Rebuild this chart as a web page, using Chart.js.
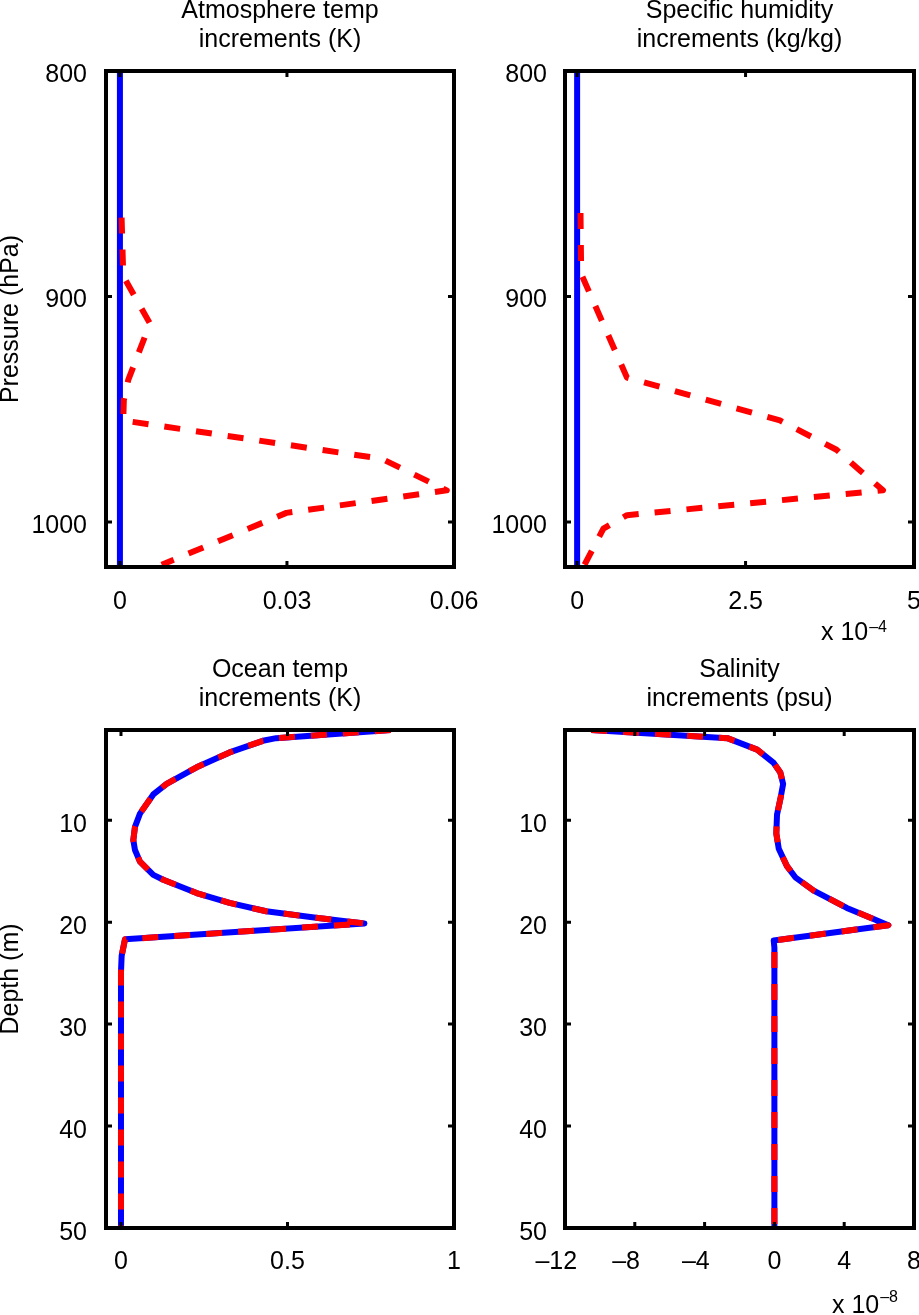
<!DOCTYPE html>
<html>
<head>
<meta charset="utf-8">
<script src="https://cdn.jsdelivr.net/npm/chart.js@4.4.1/dist/chart.umd.min.js"></script>
<style>
  html, body { margin: 0; padding: 0; background: #fff; overflow: hidden; }
  #page { position: relative; width: 919px; height: 1315px; }
  canvas { position: absolute; }
</style>
</head>
<body>
<div id="page">
  <canvas id="atmTemp" width="480" height="631" style="left:0px;top:-4px"></canvas>
  <canvas id="humidity" width="460" height="651" style="left:470px;top:-4px"></canvas>
  <canvas id="oceanTemp" width="480" height="633" style="left:0px;top:655px"></canvas>
  <canvas id="salinity" width="460" height="660" style="left:470px;top:655px"></canvas>
</div>
<script>
// atmosphere temp increments (K) vs pressure (hPa)
var atmBlueLevels = [800, 1020];
var atmBlueTemp = [0, 0];
var atmRedLevels = [865, 891, 912, 937, 946, 955, 972, 986, 996, 1019];
var atmRedTemp = [0.0003, 0.0006, 0.0054, 0.0015, 0.0007, 0.0006, 0.0470, 0.0587, 0.0299, 0.0075];

// specific humidity increments, in units of 1e-4 kg/kg
var humBlueLevels = [800, 1020];
var humBlueVals = [0, 0];
var humRedLevels = [863, 890, 936, 955, 968, 977, 986, 997, 1003, 1019];
var humRedVals = [0.05, 0.06, 0.74, 3.01, 3.85, 4.19, 4.54, 0.74, 0.39, 0.11];

// ocean temp increments (K) vs depth (m)
var oceanDepth = [1.15, 1.95, 2.21, 3.35, 4.81, 6.43, 7.47, 9.35, 10.65, 11.95, 12.92, 14.06, 15.36, 15.84, 17.14, 18.11, 18.93, 19.57, 20.13, 21.68, 23.3, 24.9, 50];
var oceanTempVals = [0.81, 0.466, 0.426, 0.326, 0.227, 0.137, 0.097, 0.057, 0.042, 0.037, 0.042, 0.057, 0.097, 0.127, 0.227, 0.326, 0.436, 0.586, 0.731, 0.012, 0.002, 0, 0];

// salinity increments, in units of 1e-8 psu
var salDepth = [1.15, 1.95, 3.07, 4.38, 5.32, 6.44, 7.94, 9.44, 11.3, 12.8, 14.5, 15.6, 16.9, 18.6, 19.7, 20.3, 21.8, 22.5, 50];
var salVals = [-10.5, -2.7, -0.99, -0.04, 0.34, 0.50, 0.34, 0.15, 0.11, 0.25, 0.72, 1.20, 2.25, 4.15, 5.68, 6.53, -0.04, 0, 0];

// tick values
var pressureTicks = [800, 900, 1000];
var depthTicks = [10, 20, 30, 40, 50];
var atmTempTicks = [0, 0.03, 0.06];
var humTicks = [0, 2.5, 5];
var oceanTempTicks = [0, 0.5, 1];
var salTicks = [-12, -8, -4, 0, 4, 8];

var FONT = '"Liberation Sans", Arial, Helvetica, sans-serif';
Chart.defaults.font.family = FONT;
Chart.defaults.color = '#000';

function pts(xs, ys) {
    return xs.map(function(v, i) { return {x: v, y: ys[i]}; });
}

// negative numbers get an en dash, and hang a little to the left like the original
function fmt(v) {
    if (v < 0) return '\u2013' + String(-v) + '\u2002\u2009';
    return String(v);
}

// box around the plot, inward ticks on all four sides, and the "x 10^n" note
var framePlugin = {
    id: 'frame',
    afterDatasetsDraw: function(chart) {
        var ctx = chart.ctx;
        var a = chart.chartArea;
        var xs = chart.scales.x, ys = chart.scales.y;
        ctx.save();
        ctx.strokeStyle = '#000';
        ctx.lineWidth = 4;
        ctx.strokeRect(a.left, a.top, a.right - a.left, a.bottom - a.top);
        ctx.lineWidth = 3;
        ctx.beginPath();
        xs.ticks.forEach(function(t) {
            var px = xs.getPixelForValue(t.value);
            ctx.moveTo(px, a.bottom); ctx.lineTo(px, a.bottom - 6);
            ctx.moveTo(px, a.top); ctx.lineTo(px, a.top + 6);
        });
        ys.ticks.forEach(function(t) {
            var py = ys.getPixelForValue(t.value);
            ctx.moveTo(a.left, py); ctx.lineTo(a.left + 6, py);
            ctx.moveTo(a.right, py); ctx.lineTo(a.right - 6, py);
        });
        ctx.stroke();

        var ex = chart.options.plugins.frame;
        if (ex && ex.exponent) {
            ctx.fillStyle = '#000';
            ctx.textBaseline = 'alphabetic';
            ctx.textAlign = 'left';
            ctx.font = '25px ' + FONT;
            var mainW = ctx.measureText('x 10').width;
            ctx.font = '16px ' + FONT;
            var supW = ctx.measureText(ex.exponent).width;
            var x0 = a.right - ex.right - supW - mainW - 1;
            ctx.font = '25px ' + FONT;
            ctx.fillText('x 10', x0, a.bottom + ex.base);
            ctx.font = '16px ' + FONT;
            ctx.fillText(ex.exponent, x0 + mainW + 1, a.bottom + ex.supBase);
        }
        ctx.restore();
    }
};

function makePanel(id, p) {
    var datasets = [];
    datasets.push({
        data: p.red,
        borderColor: '#ff0000',
        borderWidth: 6,
        borderDash: [16, 16],
        borderCapStyle: 'butt',
        borderJoinStyle: 'round',
        showLine: true,
        pointRadius: 0,
        tension: 0
    });
    datasets.push({
        data: p.blue,
        borderColor: '#0000ff',
        borderWidth: 6,
        borderJoinStyle: 'round',
        showLine: true,
        pointRadius: 0,
        tension: 0
    });

    return new Chart(document.getElementById(id).getContext('2d'), {
        type: 'scatter',
        data: { datasets: datasets },
        options: {
            responsive: false,
            animation: false,
            events: [],
            layout: { padding: { left: 0, right: p.padRight, top: 0, bottom: 0 } },
            plugins: {
                legend: { display: false },
                tooltip: { enabled: false },
                title: {
                    display: true,
                    text: p.title,
                    fullSize: false,
                    color: '#000',
                    font: { size: 25, weight: 'normal', lineHeight: '29.5px' },
                    padding: { top: 0, bottom: 16 }
                },
                frame: p.exp || {}
            },
            scales: {
                x: {
                    type: 'linear',
                    min: p.xMin,
                    max: p.xMax,
                    grid: { display: false, drawTicks: false },
                    border: { display: false },
                    ticks: {
                        padding: 0,
                        maxRotation: 0,
                        autoSkip: false,
                        font: { size: 25, lineHeight: p.xLabelGap * 2 + 'px' },
                        callback: function(v) { return fmt(v); }
                    },
                    afterBuildTicks: function(s) {
                        s.ticks = p.xTicks.map(function(v) { return {value: v}; });
                    },
                    afterFit: function(s) { s.height = p.xHeight; }
                },
                y: {
                    type: 'linear',
                    reverse: true,
                    min: p.yMin,
                    max: p.yMax,
                    grid: { display: false, drawTicks: false },
                    border: { display: false },
                    title: {
                        display: !!p.yTitle,
                        text: p.yTitle || '',
                        color: '#000',
                        font: { size: 25, lineHeight: '22px' },
                        padding: 0
                    },
                    ticks: {
                        padding: p.yPad,
                        labelOffset: p.yLabelOffset,
                        autoSkip: false,
                        font: { size: 25, lineHeight: 1.2 },
                        callback: function(v) { return fmt(v); }
                    },
                    afterBuildTicks: function(s) {
                        s.ticks = p.yTicks.map(function(v) { return {value: v}; });
                    },
                    afterFit: function(s) { s.width = p.yWidth; }
                }
            }
        },
        plugins: [framePlugin]
    });
}

makePanel('atmTemp', {
    title: ['Atmosphere temp', 'increments (K)'],
    yTitle: 'Pressure (hPa)',
    red: pts(atmRedTemp, atmRedLevels),
    blue: pts(atmBlueTemp, atmBlueLevels),
    xMin: -0.0025, xMax: 0.06, xTicks: atmTempTicks,
    yMin: 800, yMax: 1020, yTicks: pressureTicks,
    yWidth: 106, padRight: 26, xHeight: 60,
    xLabelGap: 35, yPad: 19, yLabelOffset: 4
});

makePanel('humidity', {
    title: ['Specific humidity', 'increments (kg/kg)'],
    red: pts(humRedVals, humRedLevels),
    blue: pts(humBlueVals, humBlueLevels),
    xMin: -0.18, xMax: 5, xTicks: humTicks,
    yMin: 800, yMax: 1020, yTicks: pressureTicks,
    yWidth: 95, padRight: 16, xHeight: 80,
    xLabelGap: 35, yPad: 18, yLabelOffset: 4,
    exp: { exponent: '\u20134', right: 27, base: 73, supBase: 65 }
});

makePanel('oceanTemp', {
    title: ['Ocean temp', 'increments (K)'],
    yTitle: 'Depth (m)',
    red: pts(oceanTempVals, oceanDepth),
    blue: pts(oceanTempVals, oceanDepth),
    xMin: -0.045, xMax: 1, xTicks: oceanTempTicks,
    yMin: 1.15, yMax: 50, yTicks: depthTicks,
    yWidth: 106, padRight: 26, xHeight: 60,
    xLabelGap: 34, yPad: 19, yLabelOffset: 5
});

makePanel('salinity', {
    title: ['Salinity', 'increments (psu)'],
    red: pts(salVals, salDepth),
    blue: pts(salVals, salDepth),
    xMin: -12, xMax: 8, xTicks: salTicks,
    yMin: 1.15, yMax: 50, yTicks: depthTicks,
    yWidth: 95, padRight: 16, xHeight: 87,
    xLabelGap: 34, yPad: 18, yLabelOffset: 5,
    exp: { exponent: '\u20138', right: 16, base: 85, supBase: 74 }
});
</script>
</body>
</html>
